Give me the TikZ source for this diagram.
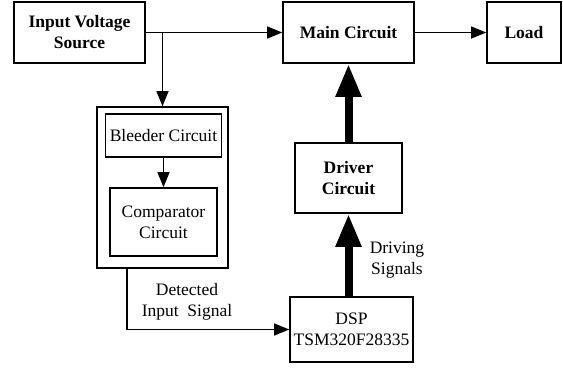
\documentclass[tikz,border=0pt]{standalone}
\usepackage{fontspec}
\setmainfont{Liberation Serif}
\usepackage{tikz}
\usetikzlibrary{arrows.meta,calc}
\tikzset{
    block/.style={draw=black,line width=1.6pt,inner sep=0pt,align=center,font=\fontsize{17.5}{21}\selectfont},
    boldblock/.style={block,font=\fontsize{17.5}{21}\selectfont\bfseries},
    note/.style={align=center,font=\fontsize{17.5}{21}\selectfont},
    signal/.style={black,line width=1.3pt,-{Triangle[length=15pt,width=12pt]}},
    power/.style={black,line width=8pt,-{Triangle[length=33pt,width=24pt]}}
}

\begin{document}
\begin{tikzpicture}[x=1pt,y=1pt]
\useasboundingbox(0,0)rectangle(563,368);
\node[boldblock,minimum width=131pt,minimum height=61pt](src)at(79.5,335.5){Input Voltage\\Source};
\node[boldblock,minimum width=131pt,minimum height=61pt](main)at(348.5,335.5){Main Circuit};
\node[boldblock,minimum width=74pt,minimum height=61pt](load)at(524,335.5){Load};
\node[block,minimum width=131pt,minimum height=161pt](outer)at(162.5,180.5){};
\node[block,minimum width=116pt,minimum height=43pt](bleed)at(163.5,232.5){Bleeder Circuit};
\node[block,minimum width=107pt,minimum height=68pt](comp)at(163.5,146){Comparator\\Circuit};
\node[boldblock,minimum width=107pt,minimum height=70pt](drv)at(348.5,190){Driver\\Circuit};
\node[block,minimum width=123pt,minimum height=65pt](dsp)at(351.5,38.5){DSP\\TSM320F28335};
\node[note](det)at(187,66){Detected\\Input\ \ Signal};
\node[note](drvsig)at(397,108){Driving\\Signals};

\draw[signal](src)--(main);
\draw[signal](main)--(load);
\draw[signal](src.east -| outer.north)--(outer.north);
\draw[signal](bleed)--(comp);
\draw[signal]([xshift=-35.5pt]outer.south)|-(dsp.west);
\draw[power](drv)--(main);
\draw[power](dsp.north -| drv)--(drv);
\end{tikzpicture}
\end{document}
